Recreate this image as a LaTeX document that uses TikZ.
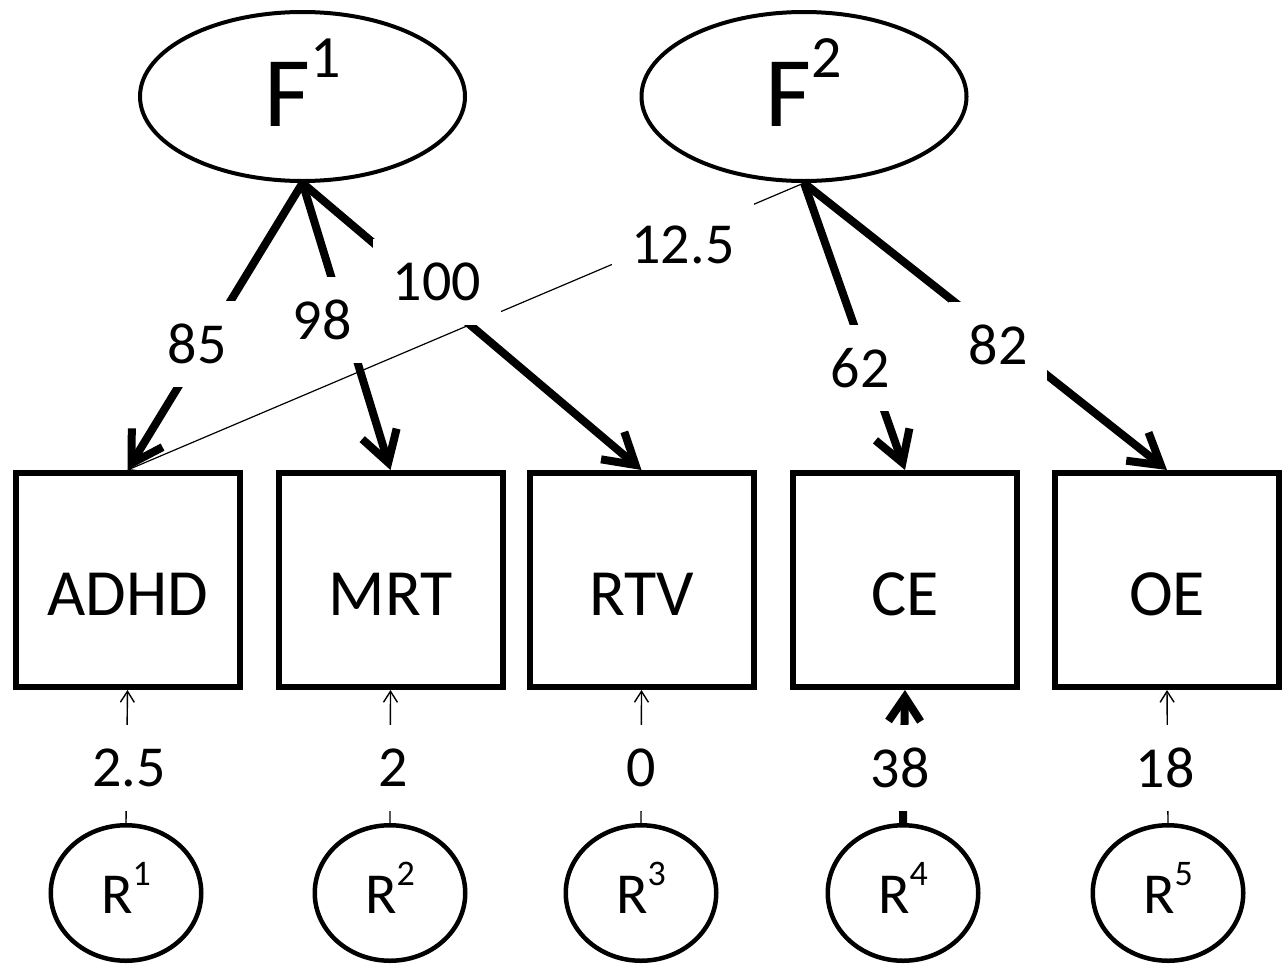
\documentclass[tikz,border=0pt]{standalone}
\usepackage{fontspec}
\setmainfont{Carlito}
\usetikzlibrary{arrows.meta,shapes.geometric}
\newcommand\FF[1]{F\raisebox{49pt}{\fontsize{60}{60}\selectfont #1}}
\newcommand\RR[1]{R\raisebox{28pt}{\fontsize{36}{36}\selectfont #1}}
\begin{document}
\begin{tikzpicture}[x=1pt,y=-1pt,
  lat/.style={draw, line width=4pt, ellipse, minimum width=325pt, minimum height=169pt, inner sep=0pt,
    font=\fontsize{100}{100}\selectfont, text height=60pt, text depth=0pt},
  res/.style={draw, line width=4.5pt, ellipse, minimum width=150.5pt, minimum height=135.5pt, inner sep=0pt,
    font=\fontsize{58}{58}\selectfont, text height=40pt, text depth=0pt},
  obs/.style={draw, line width=6pt, minimum width=224pt, minimum height=214pt, inner sep=0pt,
    font=\fontsize{66}{66}\selectfont, text height=70pt, text depth=0pt},
  load/.style={line width=8pt, -{Straight Barb[length=30pt,width=36pt]}},
  cross/.style={line width=1.2pt, -{Straight Barb[length=11pt,width=13pt]}},
  err/.style={line width=1.4pt, -{Straight Barb[length=11pt,width=14pt]}},
  errbig/.style={line width=8pt, -{Straight Barb[length=24pt,width=32pt]}},
  lbl/.style={fill=white, inner xsep=20pt, inner ysep=0pt, minimum height=86pt,
    font=\fontsize{58}{58}\selectfont},
]
\useasboundingbox (0,0) rectangle (1288,964);

% latent factors
\node[lat] (F1) at (302.5,96.5) {\FF{1}};
\node[lat] (F2) at (804,96.5) {\FF{2}};

% observed variables
\node[obs] (ADHD) at (127.5,580) {ADHD};
\node[obs] (MRT) at (390.5,580) {MRT};
\node[obs] (RTV) at (641.5,580) {RTV};
\node[obs] (CE) at (905,580) {CE};
\node[obs] (OE) at (1167,580) {OE};

% residuals
\node[res] (R1) at (126,893) {\RR{1}};
\node[res] (R2) at (390,893) {\RR{2}};
\node[res] (R3) at (641,893) {\RR{3}};
\node[res] (R4) at (903,893) {\RR{4}};
\node[res] (R5) at (1168,893) {\RR{5}};

% loadings
\draw[cross] (F2.south) -- (ADHD.north);
\draw[load] (F1.south) -- (ADHD.north);
\draw[load] (F1.south) -- (MRT.north);
\draw[load] (F1.south) -- (RTV.north);
\draw[load] (F2.south) -- (CE.north);
\draw[load] (F2.south) -- (OE.north);

% residual paths
\draw[err] (R1.north) -- (ADHD.south);
\draw[err] (R2.north) -- (MRT.south);
\draw[err] (R3.north) -- (RTV.south);
\draw[errbig] (R4.north) -- (CE.south);
\draw[err] (R5.north) -- (OE.south);

% labels
\node[lbl] (l85) at (197,344) {85};
\node[lbl] (l98) at (322,320) {98};
\node[lbl] (l100) at (437,282) {100};
\node[lbl] (l125) at (683,245) {12.5};
\node[lbl] (l62) at (860,368) {62};
\node[lbl] (l82) at (998,345) {82};
\node[lbl] (l25) at (129,768) {2.5};
\node[lbl] (l2) at (393,768) {2};
\node[lbl] (l0) at (641,768) {0};
\node[lbl] (l38) at (900,768) {38};
\node[lbl] (l18) at (1165,768) {18};
\end{tikzpicture}
\end{document}
